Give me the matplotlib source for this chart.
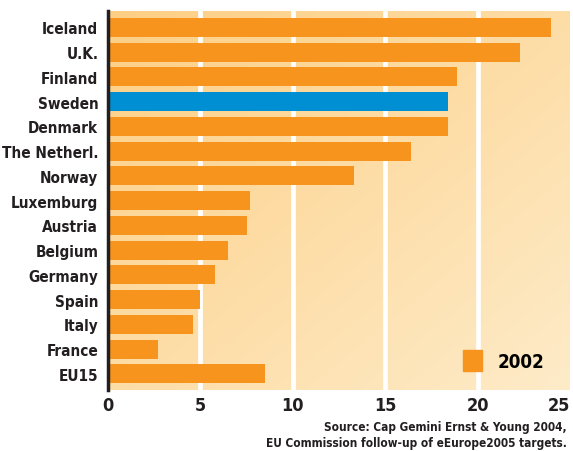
import matplotlib.pyplot as plt
import numpy as np
from matplotlib.colors import LinearSegmentedColormap
from matplotlib.patches import Patch

countries = ['Iceland', 'U.K.', 'Finland', 'Sweden', 'Denmark', 'The Netherl.',
             'Norway', 'Luxemburg', 'Austria', 'Belgium', 'Germany', 'Spain',
             'Italy', 'France', 'EU15']
values = [23.95, 22.3, 18.9, 18.4, 18.4, 16.4, 13.3, 7.7, 7.5, 6.5, 5.8, 5.0,
          4.6, 2.7, 8.5]
highlight = 'Sweden'
xticks = [0, 5, 10, 15, 20, 25]

orange = '#F7941E'
blue = '#008FD3'
dark = '#231F20'

plt.rcParams['font.family'] = ['DejaVu Sans']
plt.rcParams['font.stretch'] = 'condensed'
plt.rcParams['font.weight'] = 'bold'

fig = plt.figure(figsize=(5.73, 4.52), dpi=100)
ax = fig.add_axes([108 / 573, 1 - 391 / 452, 462 / 573, 379 / 452])

xmax = 25.0
n = len(countries)
ylo, yhi = n - 1 + 0.65, -0.66

# diagonal gradient background
gx, gy = np.meshgrid(np.linspace(0, 1, 200), np.linspace(0, 1, 200))
grad = (gx + gy) / 2
cmap = LinearSegmentedColormap.from_list('bg', ['#FDCF85', '#FEEBC8'])
ax.imshow(grad, cmap=cmap, extent=[0, xmax, ylo, yhi], aspect='auto', zorder=0)

for x in xticks[1:-1]:
    ax.axvline(x, color='white', lw=3.4, zorder=1)

colors = [blue if c == highlight else orange for c in countries]
ypos = np.arange(n)
ax.barh(ypos, values, height=0.77, color=colors, zorder=2)

ax.set_xlim(0, xmax)
ax.set_ylim(ylo, yhi)
ax.set_yticks(ypos)
ax.set_yticklabels(countries, fontsize=11, color=dark)
ax.set_xticks(xticks)
ax.set_xticklabels([str(t) for t in xticks], fontsize=13, color=dark)
ax.get_xticklabels()[-1].set_horizontalalignment('right')
ax.tick_params(length=0, pad=4)
ax.tick_params(axis='y', pad=7)
for s in ['top', 'right', 'bottom']:
    ax.spines[s].set_visible(False)
ax.spines['left'].set_color(dark)
ax.spines['left'].set_linewidth(2.5)
ax.spines['left'].set_zorder(3)

ax.legend(handles=[Patch(color=orange, label='2002')], loc='lower right',
          frameon=False, handlelength=1.0, handleheight=1.35,
          handletextpad=0.8, bbox_to_anchor=(0.98, 0.005),
          prop={'size': 13.5, 'weight': 'bold', 'stretch': 'condensed'})

fig.text(567 / 573, 1 - 428 / 452, 'Source: Cap Gemini Ernst & Young 2004,',
         ha='right', va='center', fontsize=8.5, color=dark)
fig.text(567 / 573, 1 - 444 / 452, 'EU Commission follow-up of eEurope2005 targets.',
         ha='right', va='center', fontsize=8.5, color=dark)

fig.savefig('out.png', dpi=100)
